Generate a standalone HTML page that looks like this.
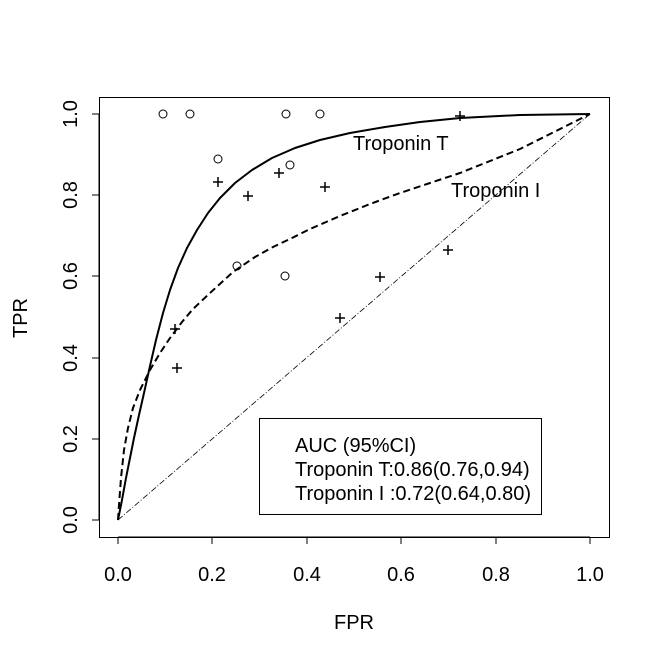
<!DOCTYPE html>
<html><head><meta charset="utf-8"><style>body{margin:0;background:#fff}svg{display:block}</style></head><body>
<svg width="660" height="659" viewBox="0 0 660 659" font-family="Liberation Sans, sans-serif" font-size="20">
<rect x="99.5" y="97.5" width="510" height="440" fill="none" stroke="#000"/>
<g stroke="#000">
<line x1="118" y1="537" x2="590" y2="537"/>
<line x1="118" y1="537" x2="118" y2="544"/><line x1="212" y1="537" x2="212" y2="544"/><line x1="307" y1="537" x2="307" y2="544"/><line x1="401" y1="537" x2="401" y2="544"/><line x1="496" y1="537" x2="496" y2="544"/><line x1="590" y1="537" x2="590" y2="544"/>
<line x1="99" y1="114" x2="99" y2="520"/>
<line x1="99" y1="520" x2="92" y2="520"/><line x1="99" y1="439" x2="92" y2="439"/><line x1="99" y1="358" x2="92" y2="358"/><line x1="99" y1="276" x2="92" y2="276"/><line x1="99" y1="195" x2="92" y2="195"/><line x1="99" y1="114" x2="92" y2="114"/>
</g>
<g text-anchor="middle">
<text x="118" y="581">0.0</text><text x="212" y="581">0.2</text><text x="307" y="581">0.4</text><text x="401" y="581">0.6</text><text x="496" y="581">0.8</text><text x="590" y="581">1.0</text>
<text x="354" y="629">FPR</text>
<text transform="translate(77,520) rotate(-90)">0.0</text>
<text transform="translate(77,439) rotate(-90)">0.2</text>
<text transform="translate(77,358) rotate(-90)">0.4</text>
<text transform="translate(77,276) rotate(-90)">0.6</text>
<text transform="translate(77,195) rotate(-90)">0.8</text>
<text transform="translate(77,114) rotate(-90)">1.0</text>
<text transform="translate(27,318) rotate(-90)">TPR</text>
</g>
<line x1="118" y1="520" x2="590" y2="114" stroke="#000" stroke-width="0.8" stroke-dasharray="6,2,1,2"/>
<polyline points="118,520 122,500 126,478 130,458 134,438 139,415 144,393 150,366 156,340 163,313 170,290 178,268 187,248 197,230 208,213 220,198 235,183 252,170 272,158 295,148 320,140 350,133 385,127 420,122 460,118 520,115 590,114" fill="none" stroke="#000" stroke-width="2" stroke-linejoin="round"/>
<polyline points="118,520 119,505 121,478 124,450 128,428 133,408 140,390 150,370 160,353 170,338 182,322 193,309 210,293 233,272 255,257 273,247 292,238 310,229 340,216 370,204 400,193 430,183 460,173 490,161 520,149 550,134 570,124 590,114" fill="none" stroke="#000" stroke-width="2" stroke-dasharray="7,4" stroke-linejoin="round"/>
<g fill="none" stroke="#000">
<circle cx="163" cy="114" r="4"/><circle cx="190" cy="114" r="4"/><circle cx="286" cy="114" r="4"/><circle cx="320" cy="114" r="4"/><circle cx="218" cy="159" r="4"/><circle cx="290" cy="165" r="4"/><circle cx="237" cy="266" r="4"/><circle cx="285" cy="276" r="4"/>
</g>
<g stroke="#000" stroke-width="1.5" fill="none">
<path d="M455,116h10M460,111v10"/><path d="M213,182h10M218,177v10"/><path d="M243,196h10M248,191v10"/><path d="M274,173h10M279,168v10"/><path d="M320,187h10M325,182v10"/><path d="M170,329h10M175,324v10"/><path d="M172,368h10M177,363v10"/><path d="M335,318h10M340,313v10"/><path d="M375,277h10M380,272v10"/><path d="M443,250h10M448,245v10"/>
</g>
<text x="353" y="150">Troponin T</text>
<text x="451" y="197">Troponin I</text>
<rect x="259.5" y="418.5" width="282" height="96" fill="#fff" stroke="#000"/>
<text x="295" y="452">AUC (95%CI)</text>
<text x="295" y="476">Troponin T:0.86(0.76,0.94)</text>
<text x="295" y="500">Troponin I :0.72(0.64,0.80)</text>
</svg>
</body></html>
